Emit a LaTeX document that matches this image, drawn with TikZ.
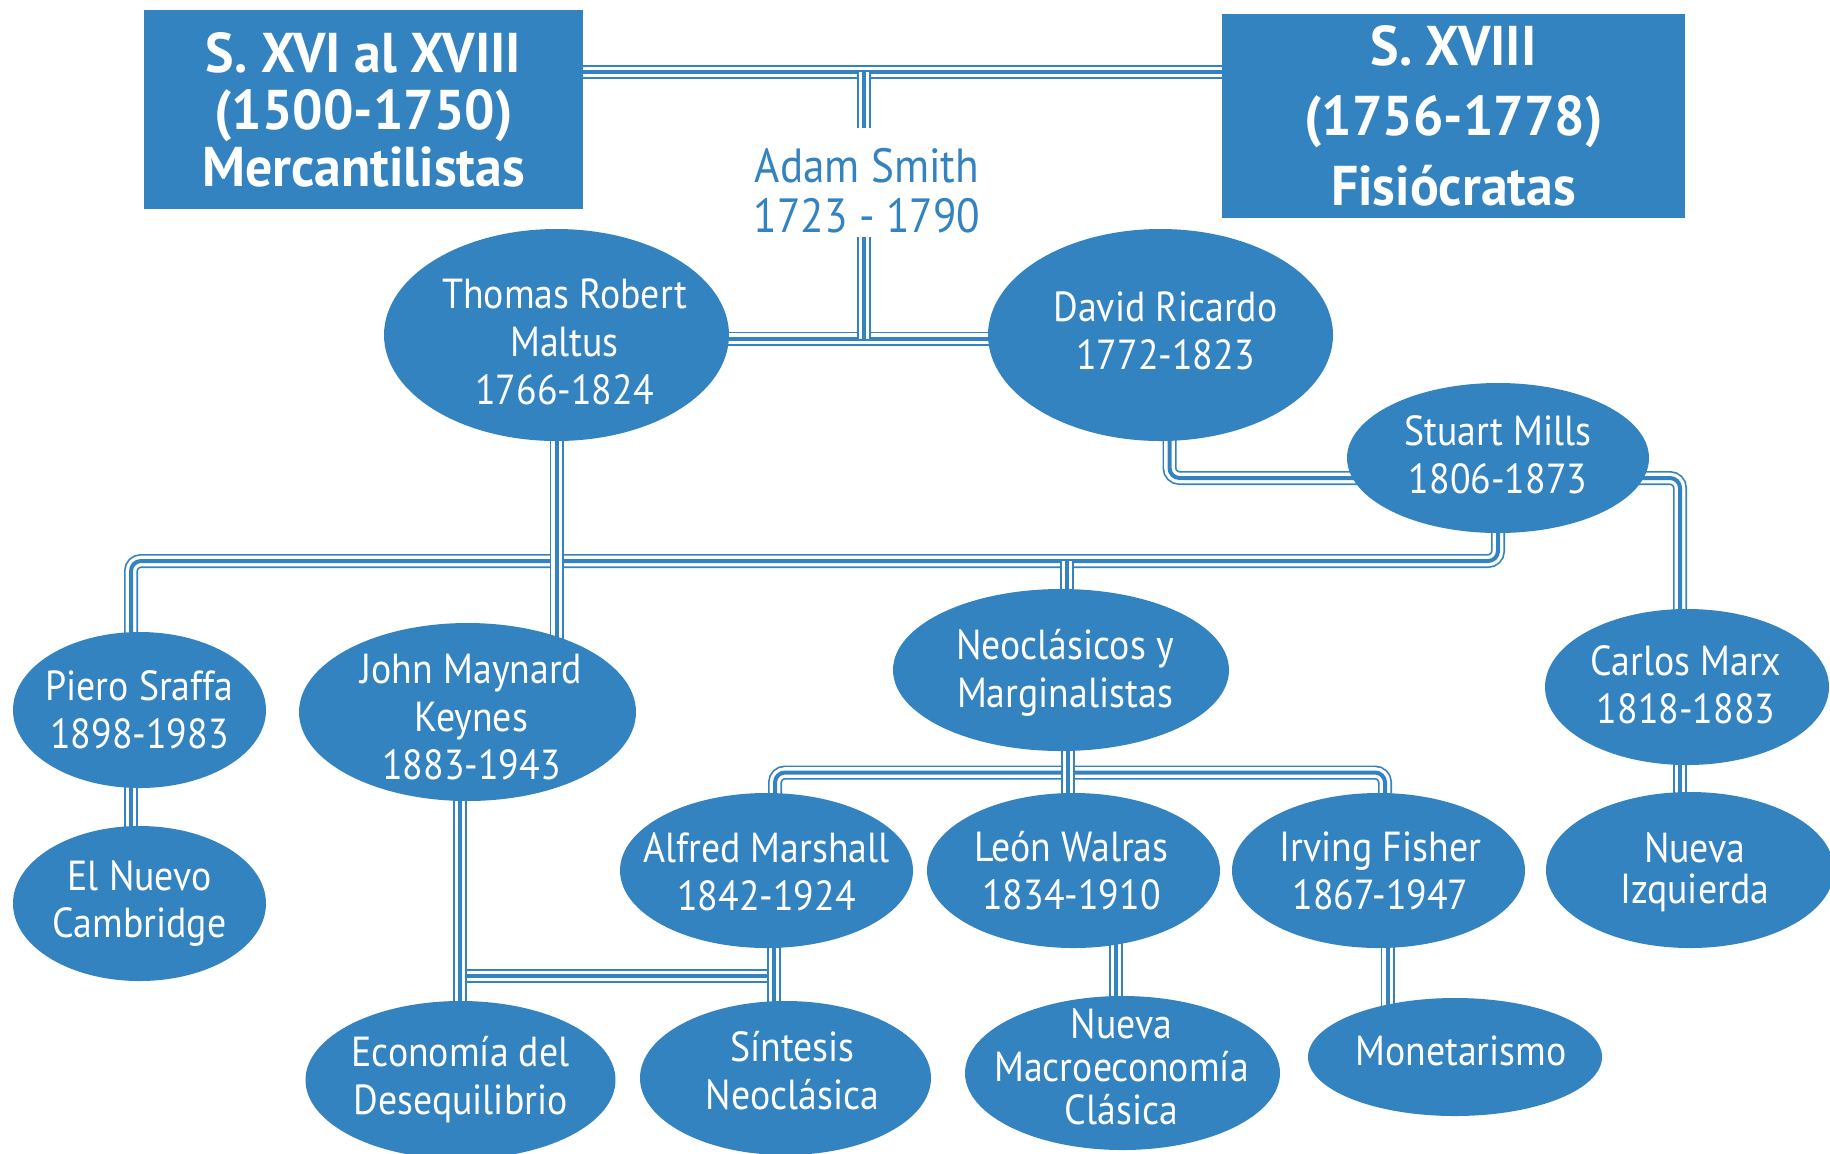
\documentclass[tikz,border=0pt]{standalone}
\usepackage{fontspec}
\setmainfont{PT Sans}
\newfontfamily\regf{PT Sans}[FakeStretch=0.9]
\newfontfamily\boldf{PT Sans}[FakeStretch=0.96]
\usetikzlibrary{backgrounds,shapes.geometric}
\definecolor{bl}{HTML}{3483C1}
\begin{document}
\begin{tikzpicture}[x=0.5pt,y=-0.5pt,
  ell/.style={ellipse, fill=bl, inner sep=0pt},
  tx/.style={text=white, inner sep=0pt, align=center, font=\regf\fontsize{21}{24}\selectfont},
  hbox/.style={rectangle, fill=bl, text=white, inner sep=0pt, align=center},
  link/.style={draw=bl, line width=7pt, rounded corners=5pt,
    postaction={draw=white, line width=5.3pt},
    postaction={draw=bl, line width=2pt}}]
\useasboundingbox (0,0) rectangle (1830,1153);
\clip (0,0) rectangle (1830,1153);

% boxes
\node[hbox, minimum width=219.5pt, minimum height=99.5pt, font=\boldf\bfseries\fontsize{28}{28.5}\selectfont] (mer) at (363.5,109.5) {S. XVI al XVIII\\(1500-1750)\\Mercantilistas};
\node[hbox, minimum width=231.5pt, minimum height=101.75pt, font=\boldf\bfseries\fontsize{28}{35}\selectfont] (fis) at (1453.5,115.75) {S. XVIII\\(1756-1778)\\Fisiócratas};

\node[font=\regf\fontsize{24}{25}\selectfont, text=bl, align=center] (adam) at (867,191) {Adam Smith\\1723 - 1790};

% ellipses
\node[ell, minimum width=172.5pt, minimum height=106pt] (mal) at (556.5,335) {};
\node[ell, minimum width=172.5pt, minimum height=106pt] (ric) at (1160.5,335) {};
\node[ell, minimum width=151pt, minimum height=75pt] (mil) at (1498,458) {};
\node[ell, minimum width=126.5pt, minimum height=78pt] (sra) at (139.5,710) {};
\node[ell, minimum width=126.5pt, minimum height=77.5pt] (cam) at (139.5,903.5) {};
\node[ell, minimum width=168.5pt, minimum height=89pt] (key) at (467.5,712) {};
\node[ell, minimum width=168pt, minimum height=81pt] (neo) at (1061,670) {};
\node[ell, minimum width=142pt, minimum height=78pt] (mar) at (1687,687) {};
\node[ell, minimum width=144pt, minimum height=78pt] (izq) at (1690,870) {};
\node[ell, minimum width=146.5pt, minimum height=77.5pt] (alf) at (766.5,870.5) {};
\node[ell, minimum width=146.5pt, minimum height=77.5pt] (wal) at (1073.5,870.5) {};
\node[ell, minimum width=146.5pt, minimum height=77.5pt] (fis2) at (1378.5,870.5) {};
\node[ell, minimum width=155pt, minimum height=79pt] (eco) at (460.5,1080) {};
\node[ell, minimum width=145.5pt, minimum height=77pt] (sin) at (785.5,1078) {};
\node[ell, minimum width=157.5pt, minimum height=77pt] (nmc) at (1122.5,1073) {};
\node[ell, minimum width=147pt, minimum height=59pt] (mon) at (1455,1057) {};

% texts
\node[tx, xshift=4pt, yshift=-3.5pt] (mal-t) at (mal) {Thomas Robert\\Maltus\\1766-1824};
\node[tx, xshift=2.5pt, yshift=2.3pt] (ric-t) at (ric) {David Ricardo\\1772-1823};
\node[tx, yshift=1.75pt] (mil-t) at (mil) {Stuart Mills\\1806-1873};
\node[tx] (sra-t) at (sra) {Piero Sraffa\\1898-1983};
\node[tx] (cam-t) at (cam) {El Nuevo\\Cambridge};
\node[tx, xshift=2pt, yshift=-2.3pt] (key-t) at (key) {John Maynard\\Keynes\\1883-1943};
\node[tx, xshift=2pt, yshift=-1.2pt] (neo-t) at (neo) {Neoclásicos y\\Marginalistas};
\node[tx, xshift=-0.5pt, yshift=1.2pt] (mar-t) at (mar) {Carlos Marx\\1818-1883};
\node[tx, xshift=2.3pt, yshift=-1.2pt, font=\regf\fontsize{21}{20.5}\selectfont] (izq-t) at (izq) {Nueva\\Izquierda};
\node[tx, yshift=-0.5pt] (alf-t) at (alf) {Alfred Marshall\\1842-1924};
\node[tx, xshift=-1pt] (wal-t) at (wal) {León Walras\\1834-1910};
\node[tx, xshift=1pt] (fis2-t) at (fis2) {Irving Fisher\\1867-1947};
\node[tx] (eco-t) at (eco) {Economía del\\Desequilibrio};
\node[tx, xshift=3.5pt, yshift=3.5pt] (sin-t) at (sin) {Síntesis\\Neoclásica};
\node[tx, xshift=-0.5pt, yshift=3pt, font=\regf\fontsize{21}{21.5}\selectfont] (nmc-t) at (nmc) {Nueva\\Macroeconomía\\Clásica};
\node[tx, xshift=3pt, yshift=3pt] (mon-t) at (mon) {Monetarismo};

% junction coordinates
\coordinate (t1) at (864,72);
\coordinate (t2) at (864,128);
\coordinate (a1) at (864,237);
\coordinate (a2) at (864,338.5);
\coordinate (bL) at (131,561);
\coordinate (bR) at (1498,561);
\coordinate (bN) at (1067,561);
\coordinate (rm) at (1169.5,478);
\coordinate (mm) at (1680,478);
\coordinate (sl) at (775,772.5);
\coordinate (sr) at (1385,772.5);
\coordinate (sm) at (1068,772.5);
\coordinate (kx) at (460,976);
\coordinate (mx) at (774,976);
\coordinate (wx) at (1116,976);
\coordinate (fx) at (1387.5,976);

\begin{scope}[on background layer]
\draw[link] (mer.east |- t1) -- (fis.west |- t1);
\draw[link] (t1) -- (t2);
\draw[link] (mal.center |- a2) -- (ric.center |- a2);
\draw[link] (a1) -- (a2);
\draw[link] (sra.center -| bL) -- (bL) -- (bR) -- (mil.center);
\draw[link] (bN) -- (bN |- neo.center);
\draw[link] (mal.center) -- (mal.center |- key.center);
\draw[link] (sra.center -| bL) -- (cam.center -| bL);
\draw[link] (ric.center -| rm) -- (rm) -- (rm -| mil.center);
\draw[link] (mm -| mil.center) -- (mm) -- (mm |- mar.center);
\draw[link] (mar.center -| mm) -- (izq.center -| mm);
\draw[link] (alf.center -| sl) -- (sl) -- (sr) -- (fis2.center -| sr);
\draw[link] (sm |- neo.center) -- (sm |- wal.center);
\draw[link] ([xshift=-2pt]kx) -- ([xshift=2pt]mx);
\draw[link] (kx |- key.center) -- (kx |- eco.center);
\draw[link] (mx |- alf.center) -- (mx |- sin.center);
\draw[link] (wx |- wal.center) -- (wx |- nmc.center);
\draw[link] (fx |- fis2.center) -- (fx |- mon.center);
\end{scope}
\end{tikzpicture}
\end{document}
